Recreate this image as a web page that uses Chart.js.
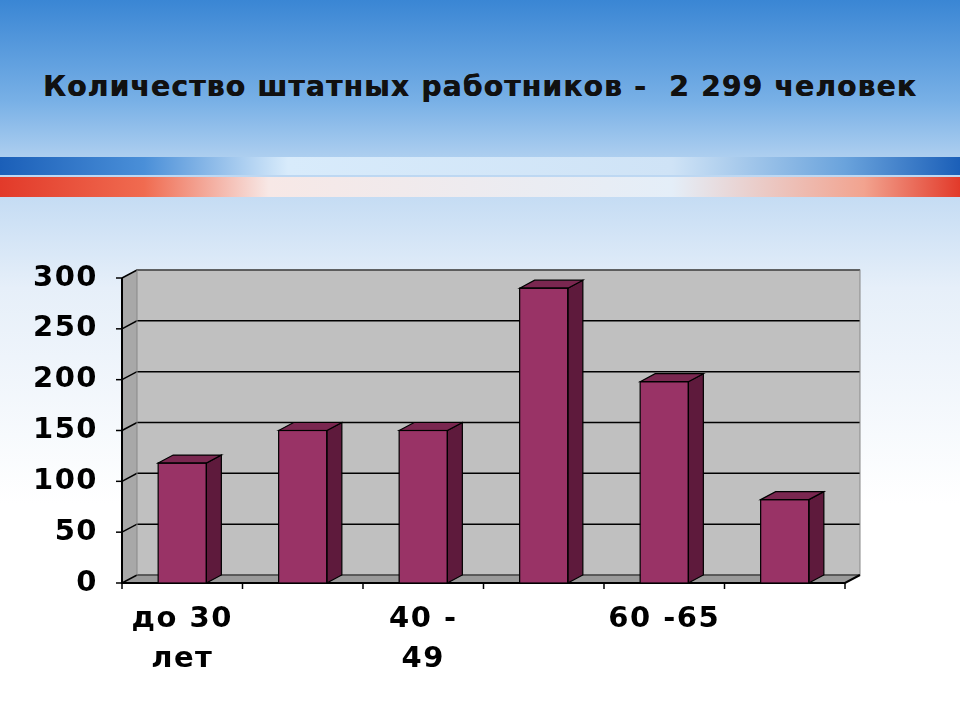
<!DOCTYPE html>
<html>
<head>
<meta charset="utf-8">
<script src="https://cdn.jsdelivr.net/npm/chart.js@4/dist/chart.umd.min.js"></script>
<style>
  body { margin: 0; }
  #wrap {
    position: relative; width: 960px; height: 720px; overflow: hidden;
    background: linear-gradient(to bottom, #3a86d4 0%, #78b0e6 14%, #bcd7f2 24%, #e6eff9 40%, #ffffff 70%, #ffffff 100%);
  }
  .stripe { position: absolute; left: 0; width: 960px; }
  #s1 { top: 157px; height: 18px; background: linear-gradient(to right, #1b5fb8 0%, #4a8fd8 15%, #d8ebfb 30%, #cfe3f6 70%, #6aa3dc 88%, #1b5fb8 100%); }
  #s2 { top: 177px; height: 20px; background: linear-gradient(to right, #e23a2a 0%, #f06b50 15%, #f7e8e6 28%, #e4eef8 70%, #f2a38f 90%, #e23a2a 100%); }
  #title {
    position: absolute; top: 70px; left: 0; width: 960px; text-align: center;
    font: bold 28px "DejaVu Sans", sans-serif; color: #111; letter-spacing: 1.3px;
    text-shadow: 0.6px 0 0 #111;
  }
  canvas { position: absolute; left: 0; top: 0; }
</style>
</head>
<body>
<div id="wrap">
  <div class="stripe" id="s1"></div>
  <div class="stripe" id="s2"></div>
  <div id="title">Количество штатных работников -&nbsp; 2 299 человек</div>
  <canvas id="chart" width="960" height="720"></canvas>
</div>
<script>
// Data
const categories = [['до 30', 'лет'], '30 - 39', ['40 -', '49'], '50 - 59', '60 -65', 'свыше 65'];
const shownLabels = [0, 2, 4];
const values = [118, 150, 150, 290, 198, 82];

const DX = 15, DY = 8;

// Back wall, floor, side wall and grid drawn behind the bars
const wallPlugin = {
  id: 'wall',
  beforeDraw(chart) {
    chart.ctx.letterSpacing = '1.5px';
  },
  beforeDatasetsDraw(chart) {
    const { ctx, chartArea: a, scales: { y } } = chart;
    ctx.save();
    ctx.fillStyle = '#c0c0c0';
    ctx.fillRect(a.left + DX, a.top - DY, a.right - a.left, a.bottom - a.top);
    ctx.fillStyle = '#a8a8a8';
    ctx.beginPath();
    ctx.moveTo(a.left, a.top); ctx.lineTo(a.left + DX, a.top - DY);
    ctx.lineTo(a.left + DX, a.bottom - DY); ctx.lineTo(a.left, a.bottom);
    ctx.closePath(); ctx.fill();
    ctx.fillStyle = '#9a9a9a';
    ctx.beginPath();
    ctx.moveTo(a.left, a.bottom); ctx.lineTo(a.left + DX, a.bottom - DY);
    ctx.lineTo(a.right + DX, a.bottom - DY); ctx.lineTo(a.right, a.bottom);
    ctx.closePath(); ctx.fill();
    ctx.strokeStyle = '#000'; ctx.lineWidth = 1.5;
    y.ticks.forEach(t => {
      const py = y.getPixelForValue(t.value);
      ctx.beginPath();
      ctx.moveTo(a.left, py); ctx.lineTo(a.left + DX, py - DY); ctx.lineTo(a.right + DX, py - DY);
      ctx.stroke();
    });
    ctx.strokeStyle = '#888'; ctx.lineWidth = 1;
    ctx.strokeRect(a.left + DX, a.top - DY, a.right - a.left, a.bottom - a.top);
    ctx.strokeStyle = '#000'; ctx.lineWidth = 2;
    ctx.beginPath();
    ctx.moveTo(a.left, a.top); ctx.lineTo(a.left, a.bottom); ctx.lineTo(a.right, a.bottom);
    ctx.lineTo(a.right + DX, a.bottom - DY);
    ctx.stroke();
    ctx.lineWidth = 1.5;
    y.ticks.forEach(t => {
      const py = y.getPixelForValue(t.value);
      ctx.beginPath(); ctx.moveTo(a.left - 6, py); ctx.lineTo(a.left, py); ctx.stroke();
    });
    for (let i = 0; i <= categories.length; i++) {
      const px = a.left + (a.right - a.left) * i / categories.length;
      ctx.beginPath(); ctx.moveTo(px, a.bottom); ctx.lineTo(px, a.bottom + 6); ctx.stroke();
    }
    ctx.restore();
  },
  afterDatasetsDraw(chart) {
    const { ctx } = chart;
    ctx.save();
    ctx.strokeStyle = '#000'; ctx.lineWidth = 1.2;
    chart.getDatasetMeta(0).data.forEach(bar => {
      const l = bar.x - bar.width / 2, r = bar.x + bar.width / 2, t = bar.y, b = bar.base;
      ctx.fillStyle = '#5e1a3c';
      ctx.beginPath();
      ctx.moveTo(r, t); ctx.lineTo(r + DX, t - DY); ctx.lineTo(r + DX, b - DY); ctx.lineTo(r, b);
      ctx.closePath(); ctx.fill(); ctx.stroke();
      ctx.fillStyle = '#7a2750';
      ctx.beginPath();
      ctx.moveTo(l, t); ctx.lineTo(l + DX, t - DY); ctx.lineTo(r + DX, t - DY); ctx.lineTo(r, t);
      ctx.closePath(); ctx.fill(); ctx.stroke();
      ctx.strokeRect(l, t, r - l, b - t);
    });
    ctx.restore();
  }
};

const tickFont = { family: 'DejaVu Sans', size: 29, weight: 'bold' };

new Chart(document.getElementById('chart'), {
  type: 'bar',
  data: {
    labels: categories,
    datasets: [{ data: values, backgroundColor: '#993366', barPercentage: 0.4, categoryPercentage: 1 }]
  },
  options: {
    responsive: false,
    animation: false,
    layout: { padding: { left: 30, right: 115, top: 278, bottom: 37 } },
    plugins: { legend: { display: false }, tooltip: { enabled: false } },
    scales: {
      y: {
        min: 0, max: 300,
        ticks: { stepSize: 50, color: '#000', padding: 16, font: tickFont },
        grid: { display: false }, border: { display: false },
        afterFit(s) { s.width = 92; }
      },
      x: {
        ticks: {
          color: '#000', maxRotation: 0, autoSkip: false, padding: 8,
          font: { ...tickFont, lineHeight: 1.38 },
          callback(v, i) { return shownLabels.includes(i) ? categories[i] : ''; }
        },
        grid: { display: false }, border: { display: false },
        afterFit(s) { s.height = 100; }
      }
    }
  },
  plugins: [wallPlugin]
});
</script>
</body>
</html>
